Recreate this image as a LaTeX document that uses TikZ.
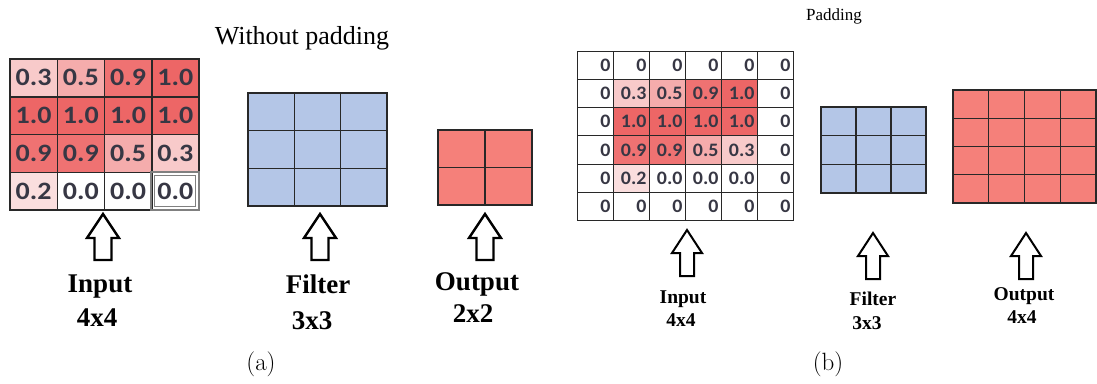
\documentclass[tikz,border=0pt]{standalone}
\usepackage{fontspec}
\usepackage{graphicx}
\newfontfamily\tnr{Liberation Serif}
\newfontfamily\calib{Carlito}
\definecolor{h10}{RGB}{237,102,102}
\definecolor{h09}{RGB}{239,114,114}
\definecolor{h05}{RGB}{245,172,172}
\definecolor{h03}{RGB}{248,202,202}
\definecolor{h02}{RGB}{250,222,222}
\definecolor{h00}{RGB}{255,255,255}
\definecolor{fblue}{RGB}{180,198,231}
\definecolor{ored}{RGB}{245,128,122}
\definecolor{gridline}{RGB}{40,40,40}
\definecolor{digit}{RGB}{55,55,68}
\tikzset{
  incell/.style={draw=gridline, line width=1.5pt, inner sep=0pt, minimum width=47.25pt, minimum height=37.75pt, text=digit, font=\calib\bfseries\fontsize{25}{25}\selectfont},
  padcell/.style={draw=gridline, line width=1pt, inner sep=0pt, minimum width=36pt, minimum height=28.33pt, text width=31pt, align=right, text=digit, font=\calib\bfseries\fontsize{19}{19}\selectfont},
  gridcell/.style={draw=gridline, line width=1.6pt, fill=#1, inner sep=0pt},
  lbl/.style={font=\tnr\bfseries\fontsize{27}{27}\selectfont, inner sep=0pt, anchor=base},
  lbls/.style={font=\tnr\bfseries\fontsize{19.5}{19.5}\selectfont, inner sep=0pt, anchor=base},
  uparr/.pic={\draw[line width=2.4pt] (0,0) -- (16,24) -- (8.5,24) -- (8.5,46) -- (-8.5,46) -- (-8.5,24) -- (-16,24) -- cycle;},
  uparrs/.pic={\draw[line width=2pt] (0,0) -- (15,23) -- (7,23) -- (7,46) -- (-7,46) -- (-7,23) -- (-15,23) -- cycle;}
}
\begin{document}
\begin{tikzpicture}[x=1pt,y=-1pt]
\useasboundingbox (0,0) rectangle (1097,383);
% (a) without padding
\node[font=\tnr\fontsize{26}{26}\selectfont, anchor=base] (ttlA) at (302,44) {Without padding};
\foreach \row [count=\r] in {{0.3/h03,0.5/h05,0.9/h09,1.0/h10},{1.0/h10,1.0/h10,1.0/h10,1.0/h10},{0.9/h09,0.9/h09,0.5/h05,0.3/h03},{0.2/h02,0.0/h00,0.0/h00,0.0/h00}}
  \foreach \v/\c [count=\k] in \row
    \node[incell, fill=\c] (a\r\k) at ({10+47.25*(\k-0.5)},{59+37.75*(\r-0.5)}) {\scalebox{1.12}[1]{\v}};
\draw[gray, line width=1.2pt] (151,172) rectangle (199,210);
\draw[gray, line width=1pt] (154.5,175.5) rectangle (195.5,206.5);
\foreach \r in {1,2,3}
  \foreach \k in {1,2,3}
    \node[gridcell=fblue, minimum width=46.33pt, minimum height=37.67pt] (fa\r\k) at ({248+46.33*(\k-0.5)},{93+37.67*(\r-0.5)}) {};
\foreach \r in {1,2}
  \foreach \k in {1,2}
    \node[gridcell=ored, minimum width=47pt, minimum height=37.5pt] (oa\r\k) at ({438+47*(\k-0.5)},{130+37.5*(\r-0.5)}) {};
\pic at (103,214) {uparr};
\pic at (320,214) {uparr};
\pic at (485,214) {uparr};
\node[lbl] (inA) at (100,292) {Input};
\node[lbl] (inAs) at (97,326) {4x4};
\node[lbl] (fiA) at (318,293) {Filter};
\node[lbl] (fiAs) at (312,329) {3x3};
\node[lbl] (ouA) at (477,290) {Output};
\node[lbl] (ouAs) at (473,322) {2x2};
\node[font=\fontsize{25}{25}\selectfont] (capA) at (261,364) {(a)};
% (b) padding
\node[font=\tnr\fontsize{17}{17}\selectfont, anchor=base] (ttlB) at (834,20) {Padding};
\foreach \row [count=\r] in {{0/h00,0/h00,0/h00,0/h00,0/h00,0/h00},{0/h00,0.3/h03,0.5/h05,0.9/h09,1.0/h10,0/h00},{0/h00,1.0/h10,1.0/h10,1.0/h10,1.0/h10,0/h00},{0/h00,0.9/h09,0.9/h09,0.5/h05,0.3/h03,0/h00},{0/h00,0.2/h02,0.0/h00,0.0/h00,0.0/h00,0/h00},{0/h00,0/h00,0/h00,0/h00,0/h00,0/h00}}
  \foreach \v/\c [count=\k] in \row
    \node[padcell, fill=\c] (b\r\k) at ({577+36*(\k-0.5)},{51+28.33*(\r-0.5)}) {\scalebox{1.05}[1]{\v}};
\foreach \r in {1,2,3}
  \foreach \k in {1,2,3}
    \node[gridcell=fblue, line width=1.3pt, minimum width=35pt, minimum height=28.67pt] (fb\r\k) at ({821+35*(\k-0.5)},{107+28.67*(\r-0.5)}) {};
\foreach \r in {1,2,3,4}
  \foreach \k in {1,2,3,4}
    \node[gridcell=ored, line width=1.3pt, minimum width=35.75pt, minimum height=28.25pt] (ob\r\k) at ({953+35.75*(\k-0.5)},{90+28.25*(\r-0.5)}) {};
\pic at (687,230) {uparrs};
\pic at (873,233) {uparrs};
\pic at (1026,233) {uparrs};
\node[lbls] (inB) at (683,303) {Input};
\node[lbls] (inBs) at (681,326) {4x4};
\node[lbls] (fiB) at (873,305) {Filter};
\node[lbls] (fiBs) at (867,329) {3x3};
\node[lbls] (ouB) at (1024,300) {Output};
\node[lbls] (ouBs) at (1022,323) {4x4};
\node[font=\fontsize{25}{25}\selectfont] (capB) at (828,364) {(b)};
\end{tikzpicture}
\end{document}
